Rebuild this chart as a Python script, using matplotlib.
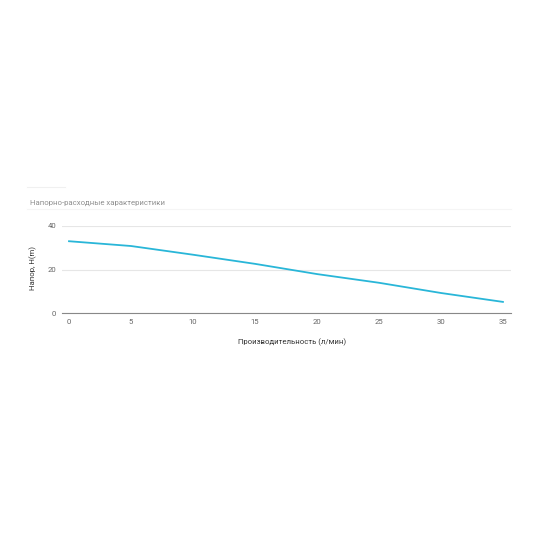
import matplotlib.pyplot as plt

flow = [0, 5, 10, 15, 20, 25, 30, 35]
head = [33, 30.8, 26.8, 22.6, 17.9, 13.9, 9.2, 5.1]
x_ticks = [0, 5, 10, 15, 20, 25, 30, 35]
y_ticks = [0, 20, 40]

plt.rcParams['font.family'] = ['Roboto', 'DejaVu Sans']

fig = plt.figure(figsize=(5.5, 5.5), dpi=100)
ax = fig.add_axes([62/550, 1 - 313/550, 449/550, 87/550])

ax.plot(flow, head, color='#29b6d8', linewidth=1.3)
ax.set_xlim(-0.565, 35.65)
ax.set_ylim(0, 40)
ax.set_xticks(x_ticks)
ax.set_yticks(y_ticks)
ax.grid(axis='y', color='#e6e6e6', linewidth=0.8)
ax.set_axisbelow(True)
for s in ['top', 'right', 'left']:
    ax.spines[s].set_visible(False)
ax.spines['bottom'].set_color('#888888')
ax.spines['bottom'].set_linewidth(0.8)
ax.tick_params(length=0, labelsize=5.6, colors='#666666', pad=4)
ax.set_xlabel('Производительность (л/мин)', fontsize=5.6, color='#333333')
ax.set_ylabel('Напор, H(m)', fontsize=5.6, color='#333333')
ax.xaxis.set_label_coords(0.513, -0.333)
ax.yaxis.set_label_coords(-0.0646, 0.517)
ax.xaxis.label.set_va('center')
ax.yaxis.label.set_va('center')

# заголовок и тонкие линии
fig.text(30/550, 1 - 203/550, 'Напорно-расходные характеристики', fontsize=5.6,
         color='#8f8f8f', va='center')
fig.add_artist(plt.Line2D([27/550, 65/550], [1 - 187/550] * 2, color='#f0f0f0', linewidth=0.8))
fig.add_artist(plt.Line2D([27/550, 511/550], [1 - 209/550] * 2, color='#f5f5f5', linewidth=0.8))

fig.savefig('out.png', dpi=100)
